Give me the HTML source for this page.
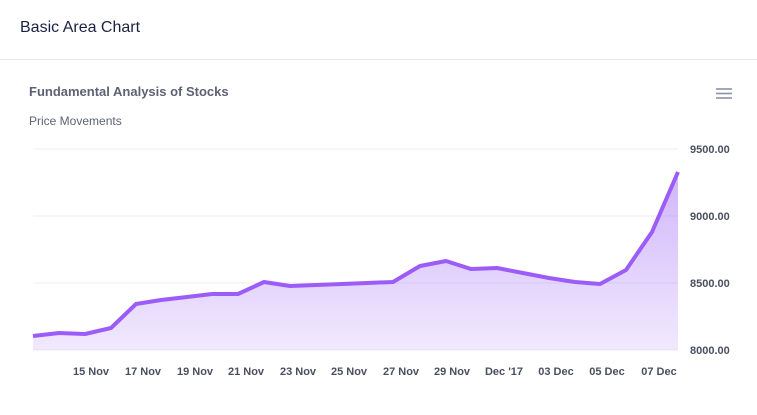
<!DOCTYPE html>
<html><head><style>
body{margin:0;width:757px;height:415px;background:#fff;font-family:"Liberation Sans",sans-serif;overflow:hidden;position:relative}
.h{position:absolute;left:20px;top:19px;font-size:16px;color:#1a2240}
.sep{position:absolute;left:0;top:59px;width:757px;height:1px;background:#e6e7ec}
</style></head><body>
<div class="h">Basic Area Chart</div>
<div class="sep"></div>
<svg width="757" height="415" style="position:absolute;left:0;top:0">
<defs><linearGradient id="g" x1="0" y1="0" x2="0" y2="1">
<stop offset="0" stop-color="#a16cf7" stop-opacity="0.5"/><stop offset="1" stop-color="#a16cf7" stop-opacity="0.15"/></linearGradient></defs>
<text x="29" y="96" font-size="13" font-weight="bold" fill="#5e6273">Fundamental Analysis of Stocks</text>
<text x="29" y="125" font-size="12" fill="#5e6273">Price Movements</text>
<g stroke="#8a93a5" stroke-width="1.6"><line x1="716" y1="89" x2="732" y2="89"/><line x1="716" y1="93.5" x2="732" y2="93.5"/><line x1="716" y1="98" x2="732" y2="98"/></g>
<g stroke="#eceef3" stroke-width="1"><line x1="33" y1="149" x2="678" y2="149"/><line x1="33" y1="216" x2="678" y2="216"/><line x1="33" y1="283" x2="678" y2="283"/><line x1="33" y1="350" x2="678" y2="350"/></g>
<path d="M33,336 L59,333 L85,334 L111,328 L136,304 L161,300 L187,297 L212,294 L238,294 L264,282 L290,286 L316,285 L342,284 L367,283 L393,282 L420,266 L446,261 L471,269 L497,268 L523,273 L549,278 L575,282 L600,284 L626,270 L652,232 L678,172 L678,350 L33,350 Z" fill="url(#g)"/>
<path d="M33,336 L59,333 L85,334 L111,328 L136,304 L161,300 L187,297 L212,294 L238,294 L264,282 L290,286 L316,285 L342,284 L367,283 L393,282 L420,266 L446,261 L471,269 L497,268 L523,273 L549,278 L575,282 L600,284 L626,270 L652,232 L678,172" fill="none" stroke="#9c5cf8" stroke-width="4" stroke-linejoin="round"/>
<g font-size="11" font-weight="bold" fill="#4a4f60">
<text x="690" y="153">9500.00</text><text x="690" y="220">9000.00</text><text x="690" y="287">8500.00</text><text x="690" y="354">8000.00</text>
</g>
<g font-size="11" font-weight="bold" fill="#4a4f60" text-anchor="middle">
<text x="91" y="375">15 Nov</text><text x="143" y="375">17 Nov</text><text x="195" y="375">19 Nov</text><text x="246" y="375">21 Nov</text><text x="298" y="375">23 Nov</text><text x="349" y="375">25 Nov</text><text x="401" y="375">27 Nov</text><text x="452" y="375">29 Nov</text><text x="504" y="375">Dec '17</text><text x="556" y="375">03 Dec</text><text x="607" y="375">05 Dec</text><text x="659" y="375">07 Dec</text>
</g>
</svg>
</body></html>
